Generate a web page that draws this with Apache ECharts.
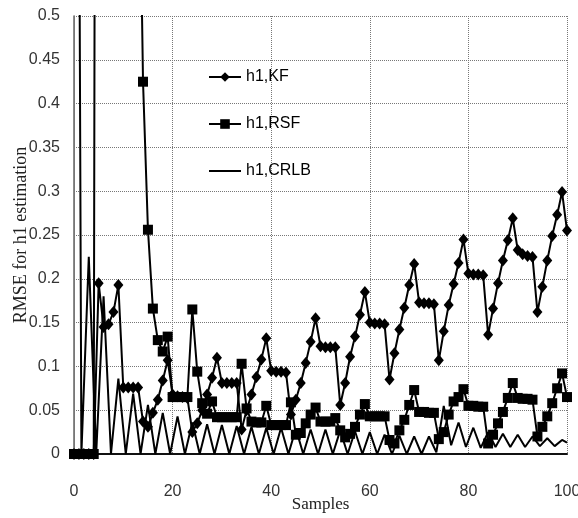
<!DOCTYPE html>
<html><head><meta charset="utf-8">
<script src="https://cdn.jsdelivr.net/npm/echarts@6/dist/echarts.min.js"></script>
<style>html,body{margin:0;padding:0;background:#fff}#c{width:578px;height:518px}</style>
</head><body><div id="c"></div>
<script>
// Samples 0..100 (index of each value = sample number)
const kfValues = [
  0, 0, 0, 0, 0,
  0.195, 0.145, 0.148, 0.162, 0.193,
  0.076, 0.076, 0.076, 0.076,
  0.037, 0.031, 0.047, 0.062, 0.084, 0.107,
  0.068, 0.066, 0.065, 0.064,
  0.025, 0.035, 0.050, 0.068, 0.087, 0.110,
  0.081, 0.081, 0.081, 0.081,
  0.028, 0.050, 0.068, 0.088, 0.108, 0.132,
  0.095, 0.094, 0.094, 0.093,
  0.045, 0.062, 0.081, 0.104, 0.128, 0.155,
  0.123, 0.122, 0.122, 0.122,
  0.056, 0.081, 0.111, 0.134, 0.159, 0.185,
  0.150, 0.149, 0.149, 0.148,
  0.085, 0.115, 0.142, 0.167, 0.193, 0.217,
  0.173, 0.172, 0.172, 0.171,
  0.107, 0.140, 0.170, 0.194, 0.218, 0.245,
  0.206, 0.205, 0.205, 0.204,
  0.136, 0.166, 0.195, 0.221, 0.244, 0.269,
  0.233, 0.228, 0.226, 0.225,
  0.162, 0.191, 0.221, 0.249, 0.273, 0.299,
  0.255
];
const rsfValues = [
  0, 0, 0, 0, 0,
  3.0, 2.6, 2.2, 1.9, 1.6, 1.3, 1.1, 0.95, 0.80,
  0.425, 0.256, 0.166, 0.130, 0.117, 0.134,
  0.065, 0.065, 0.065, 0.065,
  0.165, 0.094, 0.058, 0.046, 0.060,
  0.042, 0.042, 0.042, 0.042, 0.042,
  0.103, 0.052, 0.037, 0.036, 0.036, 0.055,
  0.033, 0.033, 0.033, 0.033,
  0.059, 0.022, 0.024, 0.035, 0.045, 0.053,
  0.037, 0.037, 0.037, 0.041,
  0.027, 0.019, 0.023, 0.031, 0.045, 0.057,
  0.043, 0.043, 0.043, 0.043,
  0.016, 0.012, 0.027, 0.039, 0.056, 0.073,
  0.048, 0.048, 0.047, 0.047,
  0.017, 0.025, 0.045, 0.060, 0.065, 0.074,
  0.055, 0.055, 0.054, 0.054,
  0.012, 0.022, 0.035, 0.048, 0.064, 0.081,
  0.064, 0.063, 0.063, 0.062,
  0.020, 0.031, 0.043, 0.058, 0.075, 0.092,
  0.065
];
// CRLB read as peak / trough points
const crlbX = [0, 1.5, 3, 4.5, 6, 7.5, 9, 10.5, 12, 13.5, 15, 16.5, 18, 19.5, 21, 22.5, 24, 25.5, 27, 28.5, 30, 31.5, 33, 34.5, 36, 37.5, 39, 40.5, 42, 43.5, 45, 46.5, 48, 49.5, 51, 52.5, 54, 55.5, 57, 58.5, 60, 61.5, 63, 64.5, 66, 67.5, 69, 70.5, 72, 73.5, 75, 76.5, 78, 79.5, 81, 82.5, 84, 85.5, 87, 88.5, 90, 91.5, 93, 94.5, 96, 97.5, 99, 100];
const crlbY = [2.2, 0, 0.225, 0, 0.180, 0, 0.086, 0, 0.069, 0, 0.056, 0, 0.047, 0, 0.043, 0, 0.036, 0, 0.034, 0, 0.033, 0, 0.032, 0, 0.031, 0, 0.030, 0, 0.030, 0, 0.029, 0, 0.028, 0, 0.028, 0, 0.027, 0, 0.026, 0, 0.025, 0, 0.022, 0, 0.021, 0, 0.020, 0, 0.020, 0.002, 0.055, 0.010, 0.036, 0.008, 0.030, 0.007, 0.025, 0.008, 0.023, 0.008, 0.022, 0.008, 0.020, 0.009, 0.018, 0.009, 0.016, 0.013];
const seriesNames = ['h1,KF', 'h1,RSF', 'h1,CRLB'];
const xTicks = [0, 20, 40, 60, 80, 100];
const yTicks = [0, 0.05, 0.1, 0.15, 0.2, 0.25, 0.3, 0.35, 0.4, 0.45, 0.5];

const toPairs = vals => vals.map((v, i) => [i, v]);
const crlbPairs = crlbX.map((x, i) => [x, crlbY[i]]);

const tickFont = '"Liberation Sans Narrow", "Liberation Sans", Arial, sans-serif';
const chart = echarts.init(document.getElementById('c'), null, {renderer: 'canvas'});
chart.setOption({
  animation: false,
  backgroundColor: '#fff',
  grid: {left: 74, right: 11, top: 16, bottom: 64, containLabel: false, outerBoundsMode: 'none'},
  legend: {
    orient: 'vertical', left: 203, top: 64, itemWidth: 32, itemHeight: 12, itemGap: 31,
    textStyle: {fontSize: 16, fontFamily: tickFont, color: '#000'},
    data: [seriesNames[0], seriesNames[1], {name: seriesNames[2], itemStyle: {opacity: 0}}]
  },
  xAxis: [{
    type: 'value', min: xTicks[0], max: xTicks[xTicks.length - 1], interval: 20,
    name: 'Samples', nameLocation: 'middle', nameGap: 42, nameMoveOverlap: false,
    nameTextStyle: {fontSize: 17, fontFamily: '"Liberation Serif", serif', color: '#222'},
    axisLine: {show: true, lineStyle: {color: '#888', width: 1}},
    axisTick: {show: false},
    axisLabel: {margin: 30, fontSize: 16, fontFamily: tickFont, color: '#333'},
    splitLine: {show: true, lineStyle: {color: '#777', type: 'dotted', width: 1}}
  }, {
    type: 'value', position: 'top', min: 0, max: 100,
    axisLine: {show: true, lineStyle: {color: '#111', width: 2}},
    axisTick: {show: false}, axisLabel: {show: false}, splitLine: {show: false}
  }],
  yAxis: [{
    type: 'value', min: yTicks[0], max: yTicks[yTicks.length - 1], interval: 0.05,
    name: 'RMSE for h1 estimation', nameLocation: 'middle', nameGap: 44, nameMoveOverlap: false,
    nameTextStyle: {fontSize: 18, fontFamily: '"Liberation Serif", serif', color: '#222'},
    axisLine: {show: true, lineStyle: {color: '#aaa', width: 1}},
    axisTick: {show: false},
    axisLabel: {margin: 14, fontSize: 16, fontFamily: tickFont, color: '#333'},
    splitLine: {show: true, lineStyle: {color: '#777', type: 'dotted', width: 1}}
  }, {
    type: 'value', position: 'right', min: 0, max: 0.5,
    axisLine: {show: true, lineStyle: {color: '#666', width: 1.5}},
    axisTick: {show: false}, axisLabel: {show: false}, splitLine: {show: false}
  }],
  series: [{
    name: seriesNames[0], type: 'line', data: toPairs(kfValues), clip: true,
    symbol: 'diamond', symbolSize: [10, 12], showAllSymbol: true,
    lineStyle: {color: '#000', width: 2}, itemStyle: {color: '#000'}
  }, {
    name: seriesNames[1], type: 'line', data: toPairs(rsfValues), clip: true,
    symbol: 'rect', symbolSize: 10, showAllSymbol: true,
    lineStyle: {color: '#000', width: 2}, itemStyle: {color: '#000'}
  }, {
    name: seriesNames[2], type: 'line', data: crlbPairs, clip: true,
    symbol: 'none', lineStyle: {color: '#000', width: 2}, itemStyle: {color: '#000'}
  }]
});
</script></body></html>
